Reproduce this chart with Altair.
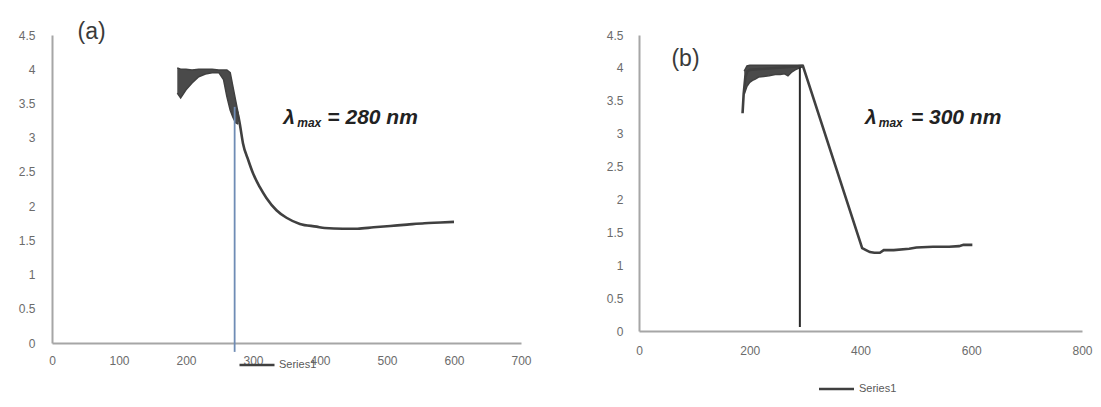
import altair as alt
import pandas as pd

# ---------------- Panel (a) ----------------
a_band_x = [187, 192, 200, 209, 219, 229, 239, 249, 256, 261, 266, 270, 274, 278]
a_band_low = [3.65, 3.58, 3.70, 3.80, 3.89, 3.93, 3.95, 3.95, 3.85, 3.60, 3.40, 3.30, 3.22, 3.20]
a_band_high = [4.02, 4.00, 4.00, 3.99, 4.00, 4.00, 4.00, 3.99, 3.99, 3.99, 3.95, 3.75, 3.55, 3.35]

a_line_x = [274, 278, 281, 285, 293, 300, 310, 320, 335, 350, 370, 395, 407, 434,
            456, 480, 505, 530, 556, 580, 600]
a_line_y = [3.42, 3.32, 3.16, 2.92, 2.67, 2.48, 2.28, 2.12, 1.94, 1.83, 1.74, 1.70, 1.68, 1.67,
            1.67, 1.69, 1.71, 1.73, 1.75, 1.76, 1.77]

a_marker_x = [272.6, 272.6]
a_marker_y = [3.45, -0.13]

# ---------------- Panel (b) ----------------
b_band_x = [190, 195, 200, 205, 210, 216, 225, 235, 246, 255, 263, 269, 275, 282, 290, 296]
b_band_low = [3.60, 3.72, 3.78, 3.81, 3.83, 3.86, 3.87, 3.88, 3.90, 3.90, 3.91, 3.88, 3.93, 3.97, 4.00, 4.02]
b_band_high = [3.95, 4.03, 4.04, 4.04, 4.04, 4.04, 4.04, 4.04, 4.04, 4.04, 4.04, 4.04, 4.04, 4.04, 4.04, 4.04]

b_line_x = [187, 189, 192, 196, 200, 296, 403, 410, 417, 425, 435, 442, 460, 488, 501, 531,
            560, 578, 586, 595, 602]
b_line_y = [3.31, 3.60, 3.86, 3.95, 3.97, 4.03, 1.26, 1.23, 1.20, 1.19, 1.19, 1.23, 1.23, 1.25, 1.27, 1.28,
            1.28, 1.29, 1.31, 1.31, 1.31]

b_marker_x = [290.5, 290.5]
b_marker_y = [4.01, 0.06]

series_name = "Series1"

# annotation texts
panel_labels = ["(a)", "(b)"]
lam_parts = ["\u03bb", "max"]
lam_values = ["= 280 nm", "= 300 nm"]
y_ticks = [0, 0.5, 1, 1.5, 2, 2.5, 3, 3.5, 4, 4.5]

LINE_COLOR = "#404040"
LABEL_FONT = "Liberation Sans"


def make_panel(band_x, band_low, band_high, line_x, line_y, marker_x, marker_y, marker_color,
               marker_width, x_max, x_step, width, height, panel_label, label_pos,
               lam_pos, value_text, legend_xy, legend_size, legend_offset, y_extent, y_pad, x_pad,
               interp):
    band_df = pd.DataFrame({"wl": band_x, "lo": band_low, "hi": band_high})
    line_df = pd.DataFrame({"wl": line_x, "abs": line_y, "series": [series_name] * len(line_x)})
    marker_df = pd.DataFrame({"wl": marker_x, "abs": marker_y})

    xs = alt.Scale(domain=[0, x_max], nice=False)
    ys = alt.Scale(domain=[0, 4.5], nice=False)
    xaxis = alt.Axis(values=list(range(0, x_max + 1, x_step)), title=None, labelFlush=False,
                     labelPadding=x_pad, grid=False, ticks=False, tickSize=0, labelOverlap=False)
    yaxis = alt.Axis(values=y_ticks, title=None, tickCount=10, format="~g",
                     labelPadding=y_pad, grid=False, ticks=False, tickSize=0,
                     minExtent=y_extent, maxExtent=y_extent, labelOverlap=False)

    band = alt.Chart(band_df).mark_area(color=LINE_COLOR, opacity=0.95).encode(
        x=alt.X("wl:Q", scale=xs, axis=xaxis),
        y=alt.Y("lo:Q", scale=ys, axis=yaxis),
        y2="hi:Q",
    )
    band_edge = alt.Chart(band_df).mark_line(color=LINE_COLOR, strokeWidth=1.5).encode(
        x="wl:Q", y="lo:Q")
    band_top = alt.Chart(band_df).mark_line(color=LINE_COLOR, strokeWidth=1.5).encode(
        x="wl:Q", y="hi:Q")

    line = alt.Chart(line_df).mark_line(strokeWidth=2.6, interpolate=interp).encode(
        x=alt.X("wl:Q", scale=xs, axis=xaxis),
        y=alt.Y("abs:Q", scale=ys, axis=yaxis),
        color=alt.Color("series:N", scale=alt.Scale(range=[LINE_COLOR]),
                        legend=alt.Legend(orient="none", legendX=legend_xy[0], legendY=legend_xy[1],
                                          title=None, symbolType="M-5,0H5",
                                          symbolSize=legend_size,
                                          symbolStrokeWidth=2.5, labelFontSize=11,
                                          labelColor="#595959", labelFont=LABEL_FONT,
                                          padding=0, labelOffset=legend_offset)),
    )

    marker = alt.Chart(marker_df).mark_line(color=marker_color, strokeWidth=marker_width).encode(
        x="wl:Q", y="abs:Q")

    title_t = alt.Chart(pd.DataFrame({"t": [panel_label]})).mark_text(
        fontSize=23, font=LABEL_FONT, color="#3a3a3a", align="center", baseline="middle"
    ).encode(x=alt.datum(label_pos[0]), y=alt.datum(label_pos[1]), text="t:N")

    lam = alt.Chart(pd.DataFrame({"t": [lam_parts[0]]})).mark_text(
        fontSize=21, font=LABEL_FONT, fontWeight="bold", fontStyle="italic", color="#222",
        align="left", baseline="middle"
    ).encode(x=alt.datum(lam_pos[0]), y=alt.datum(lam_pos[2]), text="t:N")
    sub = alt.Chart(pd.DataFrame({"t": [lam_parts[1]]})).mark_text(
        fontSize=12, font=LABEL_FONT, fontWeight="bold", fontStyle="italic", color="#222",
        align="left", baseline="middle", dy=5
    ).encode(x=alt.datum(lam_pos[1]), y=alt.datum(lam_pos[2]), text="t:N")
    val = alt.Chart(pd.DataFrame({"t": [value_text]})).mark_text(
        fontSize=21, font=LABEL_FONT, fontWeight="bold", fontStyle="italic", color="#222",
        align="left", baseline="middle"
    ).encode(x=alt.datum(lam_pos[3]), y=alt.datum(lam_pos[2]), text="t:N")

    return alt.layer(band, band_edge, band_top, line, marker, title_t, lam, sub, val).properties(
        width=width, height=height)


panel_a = make_panel(a_band_x, a_band_low, a_band_high, a_line_x, a_line_y, a_marker_x, a_marker_y,
                     "#6f8cb5", 1.8, 700, 100, 469, 308, panel_labels[0], (59, 4.55),
                     (345, 366, 3.29, 411), lam_values[0], (199.5, 324.5), 49, 16.5, 39, 17, 12,
                     "monotone")
panel_b = make_panel(b_band_x, b_band_low, b_band_high, b_line_x, b_line_y, b_marker_x, b_marker_y,
                     "#2a2a2a", 2.0, 800, 200, 443, 296, panel_labels[1], (84, 4.14),
                     (408, 433, 3.24, 491), lam_values[1], (192, 348.5), 49, 17, 39, 16, 14,
                     "linear")

chart = alt.hconcat(panel_a, panel_b, spacing=68).resolve_scale(
    x="independent", y="independent", color="independent"
).resolve_legend(color="independent").properties(
    padding={"left": 5, "top": 12, "right": 0, "bottom": 0}
).configure_view(strokeWidth=0).configure_axis(
    domainColor="#a6a6a6", domainWidth=2, labelColor="#6b6b6b", labelFontSize=12,
    labelFont=LABEL_FONT, labelOverlap=False
).configure_axisY(labelOverlap=False)

chart.save("out.html", embed_options={"renderer": "svg", "actions": False})
